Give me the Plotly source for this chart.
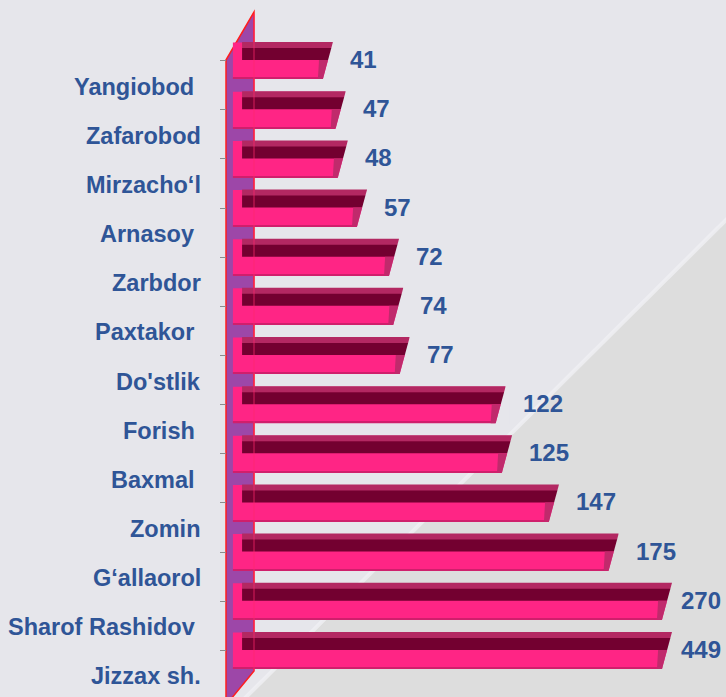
import plotly.graph_objects as go

# Data: districts and their counts
categories = [
    "Yangiobod\u00a0", "Zafarobod", "Mirzacho\u2018l", "Arnasoy\u00a0", "Zarbdor",
    "Paxtakor\u00a0", "Do'stlik", "Forish\u00a0", "Baxmal\u00a0", "Zomin",
    "G\u2018allaorol", "Sharof Rashidov\u00a0", "Jizzax sh.",
]
values = [41, 47, 48, 57, 72, 74, 77, 122, 125, 147, 175, 270, 449]

# Value axis is cut at 200; longer bars are clipped at the edge
AXIS_MIN, AXIS_MAX = -8.67, 200

FIG_W, FIG_H = 726, 697
M_L, M_R, M_T, M_B = 227, 54, 36, 22
PLOT_W = FIG_W - M_L - M_R
PLOT_H = FIG_H - M_T - M_B

n = len(categories)
idx = list(range(n))
row_px = PLOT_H / n

FONT = "Liberation Sans, Arial, sans-serif"
TEXT_BLUE = "#2f5597"
BG_LIGHT = "#e6e6eb"
BG_DARK = "#dddddd"
RIM = "#b32862"
STRIPE = "#730030"
FRONT = "#ff2585"
CAP = "#c02a6c"
WALL = "#9d47a8"


def px_x(px):
    return (px - M_L) / PLOT_W


def px_y(py):
    return (FIG_H - M_B - py) / PLOT_H


def u(px):
    return px / row_px


def val_to_px(v):
    return M_L + (v - AXIS_MIN) / (AXIS_MAX - AXIS_MIN) * PLOT_W


def streak_y(x):
    # diagonal highlight across the slide background
    return 220 + (726 - x) * (477 / 480)


def pix_path(pts):
    return "M " + " L ".join(f"{dx},{-dy}" for dx, dy in pts) + " Z"


BODY_BASE = -5.9
TOP_BASE = -1.6

fig = go.Figure()

# pink block (front face and rounded left end)
fig.add_trace(go.Bar(
    y=idx, x=[v - BODY_BASE for v in values], base=BODY_BASE, orientation="h",
    width=u(36), offset=-u(18), marker=dict(color=FRONT, line=dict(width=0)),
    hoverinfo="skip",
))
# upper rim
fig.add_trace(go.Bar(
    y=idx, x=[v - TOP_BASE for v in values], base=TOP_BASE, orientation="h",
    width=u(6.5), offset=-u(18.5), marker=dict(color=RIM, line=dict(width=0)),
    hoverinfo="skip",
))
# lower edge
fig.add_trace(go.Bar(
    y=idx, x=[v - BODY_BASE for v in values], base=BODY_BASE, orientation="h",
    width=u(1.2), offset=u(17.3), marker=dict(color="#d01f6c", line=dict(width=0)),
    hoverinfo="skip",
))
# dark top face
fig.add_trace(go.Bar(
    y=idx, x=[v - TOP_BASE for v in values], base=TOP_BASE, orientation="h",
    width=u(12), offset=-u(12.5), marker=dict(color=STRIPE, line=dict(width=0)),
    hoverinfo="skip",
))

shapes = []

# background: darker lower-right area and a soft diagonal streak
shapes.append(dict(
    type="path", xref="paper", yref="paper", layer="below",
    path=f"M {px_x(740)},{px_y(206)} L {px_x(740)},{px_y(710)} L {px_x(233)},{px_y(710)} Z",
    fillcolor=BG_DARK, line=dict(width=0),
))
shapes.append(dict(
    type="line", xref="paper", yref="paper", layer="below",
    x0=px_x(740), y0=px_y(206), x1=px_x(233), y1=px_y(710),
    line=dict(color="rgba(240,240,244,0.75)", width=4),
))

# side wall of the 3D box
shapes.append(dict(
    type="path", xref="paper", yref="paper", layer="below",
    path=(f"M {px_x(226)},{px_y(60)} L {px_x(254)},{px_y(12)} "
          f"L {px_x(254)},{px_y(671)} L {px_x(226)},{px_y(705)} Z"),
    fillcolor=WALL, line=dict(color="#ff1e1e", width=1.5),
))
shapes.append(dict(
    type="line", xref="paper", yref="paper", layer="above",
    x0=px_x(254), y0=px_y(14), x1=px_x(254), y1=px_y(671),
    line=dict(color="rgba(255,40,110,0.6)", width=1.2),
))

# slanted bar ends
for i, v in zip(idx, values):
    end = min(v, AXIS_MAX)
    e_px = val_to_px(end)
    c_px = M_T + (i + 0.5) * row_px
    bg = BG_DARK if c_px > streak_y(e_px - 5) else BG_LIGHT
    shapes.append(dict(
        type="path", xref="x", yref="y", xsizemode="pixel", ysizemode="pixel",
        xanchor=end, yanchor=i, layer="above",
        path=pix_path([(0.3, -19.5), (4, -19.5), (4, 19.5), (-10.3, 19.5)]),
        fillcolor=bg, line=dict(width=0),
    ))
    shapes.append(dict(
        type="path", xref="x", yref="y", xsizemode="pixel", ysizemode="pixel",
        xanchor=end, yanchor=i, layer="above",
        path=pix_path([(-13.9, -0.5), (-4.9, -0.5), (-10, 18.5), (-15, 18.5)]),
        fillcolor=CAP, line=dict(width=0),
    ))

annotations = []
for i, (name, v) in enumerate(zip(categories, values)):
    end = min(v, AXIS_MAX)
    annotations.append(dict(
        x=end, y=i, xref="x", yref="y", text=str(v), showarrow=False,
        xanchor="left", yanchor="middle", xshift=15 if v <= AXIS_MAX else 7, yshift=1,
        font=dict(family=FONT, size=24, color=TEXT_BLUE, weight="bold"),
    ))
    annotations.append(dict(
        x=0, y=i, xref="paper", yref="y", text=name, showarrow=False,
        xanchor="right", yanchor="middle", xshift=-24, yshift=-26,
        font=dict(family=FONT, size=23.5, color=TEXT_BLUE, weight="bold"),
    ))

fig.update_layout(
    width=FIG_W, height=FIG_H,
    margin=dict(l=M_L, r=M_R, t=M_T, b=M_B),
    paper_bgcolor=BG_LIGHT, plot_bgcolor="rgba(0,0,0,0)",
    barmode="overlay", showlegend=False,
    shapes=shapes, annotations=annotations,
    xaxis=dict(range=[AXIS_MIN, AXIS_MAX], visible=False, fixedrange=True),
    yaxis=dict(
        range=[n - 0.5, -0.5], tickvals=idx, showticklabels=False,
        ticks="outside", ticklen=6, tickcolor="#8c8c8c", tickwidth=1,
        showgrid=False, zeroline=False, showline=False,
    ),
)

fig.write_html("out.html")
